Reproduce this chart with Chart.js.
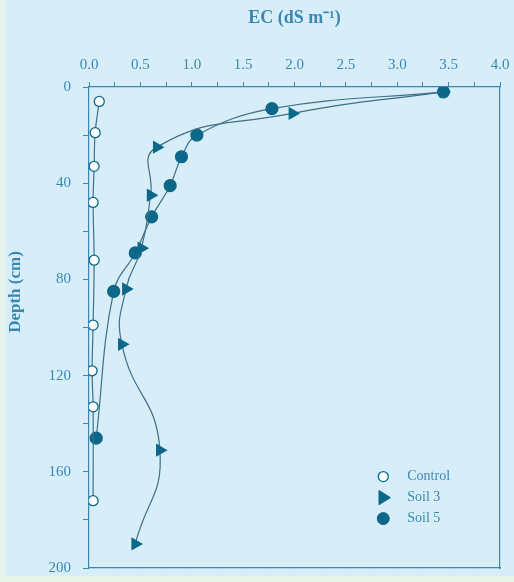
<!DOCTYPE html>
<html><head><meta charset="utf-8">
<script src="https://cdn.jsdelivr.net/npm/chart.js@4/dist/chart.umd.min.js"></script>
<style>html,body{margin:0;padding:0;background:#e6f4e9;}#wrap{position:absolute;left:0;top:0;width:514px;height:582px;}</style>
</head><body><div id="wrap"><canvas id="c" width="514" height="582"></canvas></div>
<script>
const seriesNames = ["Control", "Soil 3", "Soil 5"];
const controlDepth = [6, 19, 33, 48, 72, 99, 118, 133, 172];
const controlEC    = [0.10, 0.06, 0.05, 0.04, 0.05, 0.04, 0.03, 0.04, 0.04];
const soil3Depth = [2, 11, 25, 45, 67, 84, 107, 151, 190];
const soil3EC    = [3.45, 1.98, 0.66, 0.60, 0.51, 0.36, 0.32, 0.69, 0.45];
const soil5Depth = [2, 9, 20, 29, 41, 54, 69, 85, 146];
const soil5EC    = [3.45, 1.78, 1.05, 0.90, 0.79, 0.61, 0.45, 0.24, 0.07];
const xTitle = "EC (dS m\u207B\u00B9)";
const yTitle = "Depth (cm)";

const pts = (xs, ys) => xs.map((v, i) => ({x: v, y: ys[i]}));
const ink = "#3a88b2";
const mark = "#0c6788";
const lineC = "#3f6f86";
const serif = "Liberation Serif";
const noPad = s => { s.paddingLeft = 0; s.paddingRight = 0; s.paddingTop = 0; s.paddingBottom = 0; };

const bgPlugin = {
  id: "bg",
  beforeDraw(chart) {
    const c = chart.ctx;
    c.save();
    c.fillStyle = "#e6f4e9";
    c.fillRect(0, 0, chart.width, chart.height);
    c.fillStyle = "#d7eef9";
    c.fillRect(5, 0, chart.width - 5, 576);
    c.restore();
  }
};
const extraPlugin = {
  id: "extra",
  afterDraw(chart) {
    const c = chart.ctx, a = chart.chartArea;
    c.save();
    c.translate(16, 292);
    c.rotate(-Math.PI / 2);
    c.fillStyle = ink;
    c.font = "bold 17px '" + serif + "'";
    c.textAlign = "center"; c.textBaseline = "middle";
    c.fillText(yTitle, 0, 0);
    c.restore();
    c.save();
    const lx = a.left + (a.right - a.left) * 0.716;
    const ly0 = a.top + (a.bottom - a.top) * 0.81;
    chart.data.datasets.forEach((ds, i) => {
      const y = ly0 + i * 21;
      const r = ds.pointRadius;
      c.fillStyle = ds.pointBackgroundColor; c.strokeStyle = ds.pointBorderColor;
      c.lineWidth = ds.pointBorderWidth || 1;
      c.beginPath();
      if (ds.pointStyle === "triangle") {
        const s = r * 1.1;
        c.moveTo(lx + s, y); c.lineTo(lx - s * 0.6, y - s); c.lineTo(lx - s * 0.6, y + s); c.closePath();
      } else { c.arc(lx, y, r, 0, Math.PI * 2); }
      c.fill(); c.stroke();
      c.fillStyle = ink; c.font = "14px '" + serif + "'";
      c.textAlign = "left"; c.textBaseline = "middle";
      c.fillText(ds.label, lx + 24, y);
    });
    c.restore();
  }
};

new Chart(document.getElementById("c"), {
  type: "line",
  data: {
    datasets: [
      {label: seriesNames[0], data: pts(controlEC, controlDepth), borderColor: lineC, borderWidth: 1.2,
       pointStyle: "circle", pointRadius: 5, pointBackgroundColor: "#ffffff", pointBorderColor: mark, pointBorderWidth: 1.3,
       tension: 0.4, xAxisID: "x", yAxisID: "y"},
      {label: seriesNames[1], data: pts(soil3EC, soil3Depth), borderColor: lineC, borderWidth: 1.2,
       pointStyle: "triangle", pointRotation: 90, pointRadius: 6.5, pointBackgroundColor: mark, pointBorderColor: mark,
       tension: 0.5, xAxisID: "x", yAxisID: "y"},
      {label: seriesNames[2], data: pts(soil5EC, soil5Depth), borderColor: lineC, borderWidth: 1.2,
       pointStyle: "circle", pointRadius: 6, pointBackgroundColor: mark, pointBorderColor: mark,
       tension: 0.4, xAxisID: "x", yAxisID: "y"}
    ]
  },
  options: {
    responsive: false, animation: false,
    layout: {padding: {left: 0, right: 14, top: 0, bottom: 14}},
    plugins: {legend: {display: false}, tooltip: {enabled: false}},
    scales: {
      x: {type: "linear", position: "top", min: 0, max: 4,
        afterFit(s) { s.height = 87; noPad(s); },
        ticks: {stepSize: 0.25, autoSkip: false, maxRotation: 0, minRotation: 0, color: ink, font: {family: serif, size: 15}, padding: 8,
          callback: v => (Math.abs(v * 2 - Math.round(v * 2)) < 1e-6 ? v.toFixed(1) : "")},
        grid: {drawOnChartArea: false, color: ink, tickLength: 5, lineWidth: 1},
        border: {color: ink, width: 1.2},
        title: {display: true, text: xTitle, color: ink, font: {family: serif, size: 18, weight: "bold"}, padding: {top: 8, bottom: 12}}
      },
      x2: {type: "linear", position: "bottom", min: 0, max: 4,
        afterFit(s) { s.height = 0; noPad(s); },
        ticks: {display: false, stepSize: 0.25},
        grid: {drawOnChartArea: false, color: ink, tickLength: 0},
        border: {color: ink, width: 1.2}
      },
      y: {type: "linear", position: "left", reverse: true, min: 0, max: 200,
        afterFit(s) { s.width = 89; noPad(s); },
        ticks: {stepSize: 20, autoSkip: false, color: ink, font: {family: serif, size: 15}, padding: 12,
          callback: v => (v % 40 === 0 ? String(v) : "")},
        grid: {drawOnChartArea: false, color: ink, tickLength: 6, lineWidth: 1},
        border: {color: ink, width: 1.2}
      },
      y2: {type: "linear", position: "right", reverse: true, min: 0, max: 200,
        afterFit(s) { s.width = 0; noPad(s); },
        ticks: {display: false, stepSize: 20},
        grid: {drawOnChartArea: false, tickLength: 0},
        border: {color: ink, width: 1.2}
      }
    }
  },
  plugins: [bgPlugin, extraPlugin]
});
</script>
</body></html>
